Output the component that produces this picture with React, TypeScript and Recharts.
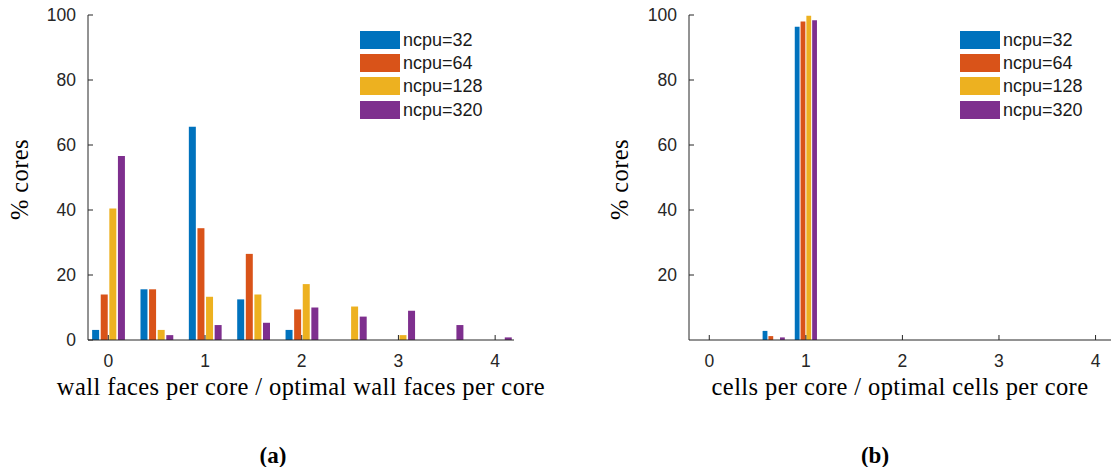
import { BarChart, Bar, XAxis, YAxis, Legend } from "recharts";

// series
const seriesNames = ["ncpu=32", "ncpu=64", "ncpu=128", "ncpu=320"];
const seriesColors = ["#0072BD", "#D95319", "#EDB120", "#7E2F8E"];

// (a) wall faces per core / optimal
const wallBins = [0, 0.5, 1, 1.5, 2, 2.5, 3, 3.5, 4];
const wall32 = [3.1, 15.6, 65.6, 12.5, 3.1, 0, 0, 0, 0];
const wall64 = [14.0, 15.6, 34.4, 26.5, 9.4, 0, 0, 0, 0];
const wall128 = [40.5, 3.1, 13.3, 14.0, 17.2, 10.3, 1.5, 0, 0];
const wall320 = [56.6, 1.5, 4.6, 5.3, 10.0, 7.2, 9.0, 4.6, 0.8];

// (b) cells per core / optimal
const cellBins = [0.667, 1.0];
const cells32 = [2.8, 96.4];
const cells64 = [1.2, 98.0];
const cells128 = [0, 99.8];
const cells320 = [0.8, 98.4];

const xTicks = [0, 1, 2, 3, 4];
const yTicksA = [0, 20, 40, 60, 80, 100];
const yTicksB = [20, 40, 60, 80, 100];

const AXIS = "#262626";
const SANS = "'Liberation Sans', Arial, sans-serif";
const SERIF = "'Liberation Serif', 'Times New Roman', serif";

const toRows = (bins: number[], cols: number[][]) =>
  bins.map((x, i) => ({ x, s0: cols[0][i], s1: cols[1][i], s2: cols[2][i], s3: cols[3][i] }));

const LegendBox = (props: any) => {
  const items = [...(props.payload || [])].sort(
    (a: any, b: any) => seriesNames.indexOf(a.value) - seriesNames.indexOf(b.value)
  );
  return (
    <div>
      {items.map((p: any) => (
        <div key={p.value} style={{ display: "flex", alignItems: "center", height: 23.2 }}>
          <span style={{ display: "inline-block", width: 40, height: 18, background: p.color }} />
          <span style={{ marginLeft: 3, fontFamily: SANS, fontSize: 18, color: "#1a1a1a", lineHeight: "18px" }}>
            {p.value}
          </span>
        </div>
      ))}
    </div>
  );
};

type PanelProps = {
  rows: any[];
  xDomain: [number, number];
  yTicks: number[];
  barSize: number;
  barGap: number;
  xTitle: string;
  width: number;
  left: number;
  yAxisWidth: number;
  marginRight: number;
};

function Panel({ rows, xDomain, yTicks, barSize, barGap, xTitle, width, left, yAxisWidth, marginRight }: PanelProps) {
  const xTitleLabel = (p: any) => {
    const vb = p.viewBox;
    return (
      <text x={vb.x + vb.width / 2} y={vb.y + 55} textAnchor="middle" fontFamily={SERIF} fontSize={24.5}
        letterSpacing={0.4} fill="#000">
        {xTitle}
      </text>
    );
  };
  const yTitleLabel = (p: any) => {
    const vb = p.viewBox;
    const cx = vb.x + 28;
    const cy = vb.y + vb.height / 2 + 2;
    return (
      <text x={cx} y={cy} transform={`rotate(-90 ${cx} ${cy})`} textAnchor="middle" fontFamily={SERIF}
        fontSize={24.5} letterSpacing={0.4} fill="#000">
        % cores
      </text>
    );
  };
  const tickStyle = { fontFamily: SANS, fontSize: 17.5, fill: AXIS };
  return (
    <div style={{ position: "absolute", left, top: 0 }}>
      <BarChart width={width} height={467} data={rows} barGap={barGap}
        margin={{ top: 15, right: marginRight, bottom: 0, left: 0 }}>
        <XAxis dataKey="x" type="number" domain={xDomain} allowDataOverflow ticks={xTicks} height={127}
          stroke={AXIS} tickSize={-5} tickMargin={20} tick={tickStyle} label={xTitleLabel} />
        <XAxis xAxisId="top" orientation="top" dataKey="x" type="number" domain={xDomain} allowDataOverflow
          ticks={xTicks} height={0} stroke={AXIS} tickSize={-5} tick={false} />
        <YAxis type="number" domain={[0, 100]} allowDataOverflow ticks={yTicks} width={yAxisWidth}
          stroke={AXIS} tickSize={-5} tickMargin={17} tick={tickStyle} label={yTitleLabel} />
        <YAxis yAxisId="right" orientation="right" type="number" domain={[0, 100]} allowDataOverflow
          ticks={yTicksA} width={0} stroke={AXIS} tickSize={-5} tick={false} />
        <Legend layout="vertical" align="center" verticalAlign="middle" content={LegendBox}
          wrapperStyle={{ left: 360, top: 28.4, width: 150, height: 95 }} />
        {seriesNames.map((name, i) => (
          <Bar key={name} dataKey={`s${i}`} name={name} fill={seriesColors[i]} barSize={barSize}
            isAnimationActive={false} />
        ))}
      </BarChart>
    </div>
  );
}

export default function App() {
  const wallRows = toRows(wallBins, [wall32, wall64, wall128, wall320]);
  const cellRows = toRows(cellBins, [cells32, cells64, cells128, cells320]);
  const caption = { position: "absolute" as const, top: 443, width: 60, textAlign: "center" as const,
    fontFamily: SERIF, fontWeight: 700, fontSize: 23, color: "#000" };
  return (
    <div style={{ position: "absolute", left: 0, top: 0, width: 1112, height: 467, background: "#fff" }}>
      <Panel rows={wallRows} xDomain={[-0.21, 4.195]} yTicks={yTicksA} barSize={7} barGap={1.6}
        xTitle="wall faces per core / optimal wall faces per core" width={570} left={0} yAxisWidth={88}
        marginRight={56} />
      <Panel rows={cellRows} xDomain={[-0.21, 4.16]} yTicks={yTicksB} barSize={4.8} barGap={1}
        xTitle="cells per core / optimal cells per core" width={512} left={600} yAxisWidth={89}
        marginRight={1} />
      <div style={{ ...caption, left: 243 }}>(a)</div>
      <div style={{ ...caption, left: 845 }}>(b)</div>
    </div>
  );
}
